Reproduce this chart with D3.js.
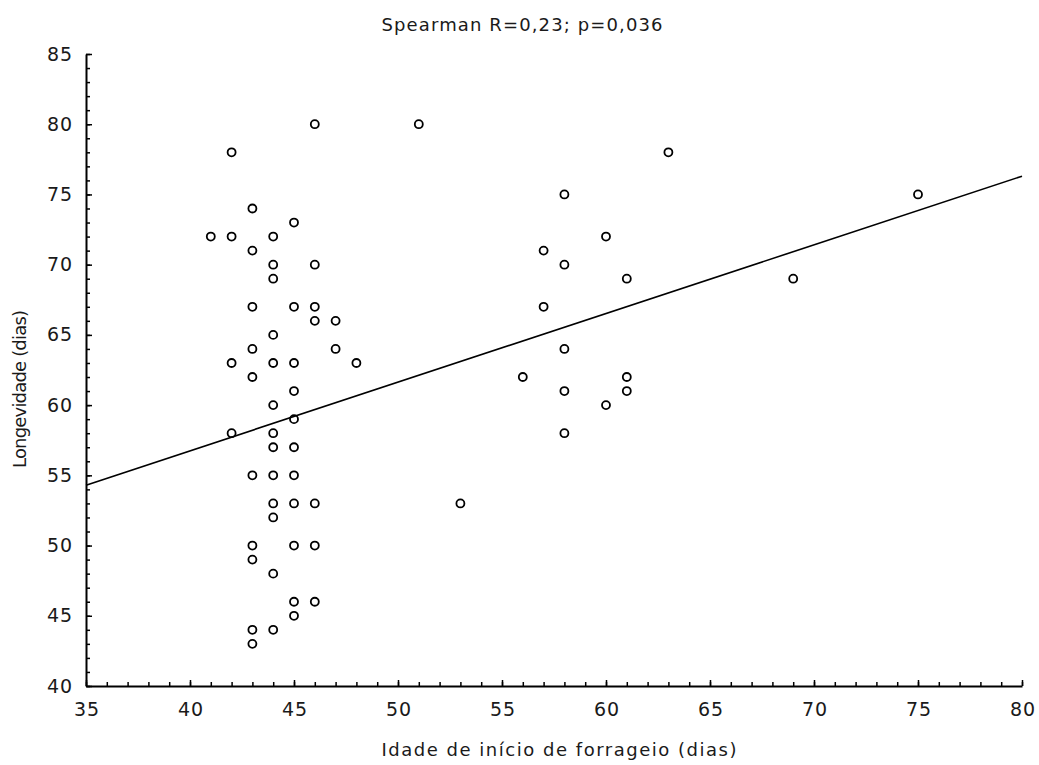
<!DOCTYPE html>
<html><head><meta charset="utf-8">
<script src="https://cdn.jsdelivr.net/npm/d3@7"></script>
<style>
body{margin:0;background:#fff;}
svg{display:block;}
text{font-family:"DejaVu Sans",Verdana,sans-serif;fill:#1a1a1a;}
</style></head>
<body>
<svg id="chart" width="1039" height="765"></svg>
<script>
// Data: age at start of foraging (days) vs longevity (days)
const idade = [41,42,42,42,42,43,43,43,43,43,43,43,43,43,43,44,44,44,44,44,44,44,44,44,44,44,44,44,
  45,45,45,45,45,45,45,45,45,45,45,46,46,46,46,46,46,46,47,47,48,51,53,56,57,57,58,58,58,58,58,60,60,61,61,61,63,69,75];
const longevidade = [72,78,72,63,58,74,71,67,64,62,55,50,49,44,43,72,70,69,65,63,60,58,57,55,53,52,48,44,
  73,67,63,61,59,57,55,53,50,46,45,80,70,67,66,53,50,46,66,64,63,80,53,62,71,67,75,70,64,61,58,72,60,69,62,61,78,69,75];
const xTicks = [35,40,45,50,55,60,65,70,75,80];
const yTicks = [40,45,50,55,60,65,70,75,80,85];
const fitX = [35,80];
const fitY = [54.3,76.3];
const title = "Spearman R=0,23; p=0,036";
const xTitle = "Idade de início de forrageio (dias)";
const yTitle = "Longevidade (dias)";

(function(){
const svg = d3.select("#chart");
const mLeft = 86, mRight = 1022, mTop = 54, mBottom = 686;
const x = d3.scaleLinear().domain([35,80]).range([mLeft,mRight]);
const y = d3.scaleLinear().domain([40,85]).range([mBottom,mTop]);

// minor ticks
svg.append("g").attr("transform",`translate(0,${mBottom})`)
  .call(d3.axisBottom(x).tickValues(d3.range(35,81,1)).tickSize(-4).tickFormat(""))
  .call(g=>{g.select(".domain").remove(); g.selectAll("line").attr("stroke","#000").attr("stroke-width",1.5);});
svg.append("g").attr("transform",`translate(${mLeft},0)`)
  .call(d3.axisLeft(y).tickValues(d3.range(40,86,1)).tickSize(-4).tickFormat(""))
  .call(g=>{g.select(".domain").remove(); g.selectAll("line").attr("stroke","#000").attr("stroke-width",1.5);});

// major axes
const xa = svg.append("g").attr("transform",`translate(0,${mBottom})`)
  .call(d3.axisBottom(x).tickValues(xTicks).tickSize(-6).tickSizeOuter(0).tickPadding(17));
const ya = svg.append("g").attr("transform",`translate(${mLeft},0)`)
  .call(d3.axisLeft(y).tickValues(yTicks).tickSize(-6).tickSizeOuter(0).tickPadding(14));
[xa,ya].forEach(g=>{
  g.select(".domain").attr("stroke","#000").attr("stroke-width",2);
  g.selectAll(".tick line").attr("stroke","#000").attr("stroke-width",1.5);
  g.selectAll(".tick text").attr("font-size",19).attr("fill","#1a1a1a")
    .attr("font-family","'DejaVu Sans',Verdana,sans-serif")
    .attr("textLength",25).attr("lengthAdjust","spacing");
});

// fit line
svg.append("line")
  .attr("x1",x(fitX[0])).attr("y1",y(fitY[0]))
  .attr("x2",x(fitX[1])).attr("y2",y(fitY[1]))
  .attr("stroke","#000").attr("stroke-width",1.6);

// points
svg.append("g").selectAll("circle").data(idade.map((d,i)=>[d,longevidade[i]]))
  .join("circle")
  .attr("cx",d=>x(d[0])).attr("cy",d=>y(d[1])).attr("r",4)
  .attr("fill","none").attr("stroke","#000").attr("stroke-width",1.8);

// titles
svg.append("text").attr("x",522).attr("y",31).attr("text-anchor","middle")
  .attr("font-size",18).attr("textLength",281).attr("lengthAdjust","spacing").text(title);
svg.append("text").attr("x",559).attr("y",756).attr("text-anchor","middle")
  .attr("font-size",18).attr("textLength",355).attr("lengthAdjust","spacing").text(xTitle);
svg.append("text").attr("transform","translate(26,389) rotate(-90)").attr("text-anchor","middle")
  .attr("font-size",18).attr("textLength",158).attr("lengthAdjust","spacing").text(yTitle);
})();
</script>
</body></html>
